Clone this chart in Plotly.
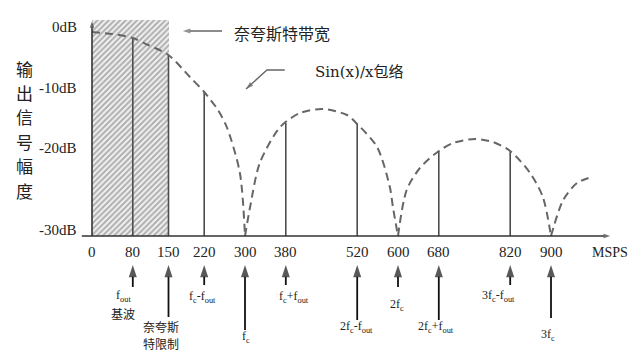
import plotly.graph_objects as go

# ---- data (x in MSPS, heights in arbitrary display units above the baseline) ----
stem_freqs = [80, 150, 220, 380, 520, 680, 820]
stem_heights = [198, 181, 144, 113, 112, 85, 85]

lobe1_x = [0, 40, 80, 110, 150, 192, 220, 247, 265, 290, 300]
lobe1_h = [204, 202, 198, 191, 181, 159, 144, 126, 108, 63, 0]
lobe2_x = [300, 310, 329, 369, 408, 453, 500, 520, 559, 584, 590, 600]
lobe2_h = [0, 29, 73, 109, 123, 127, 121, 112, 89, 49, 29, 0]
lobe3_x = [600, 617, 643, 680, 708, 751, 786, 820, 859, 884, 900]
lobe3_h = [0, 46, 68, 85, 93, 97, 94, 85, 63, 39, 0]
lobe4_x = [900, 924, 951, 980]
lobe4_h = [0, 36, 53, 59]

nyquist_band = [0, 150]
band_top = 216

x_tick_vals = [0, 80, 150, 220, 300, 380, 520, 600, 680, 820, 900]
x_tick_text = ["0", "80", "150", "220", "300", "380", "520", "600", "680", "820", "900"]

y_tick_pos = [209, 148, 88, 6]
y_tick_text = ["0dB", "-10dB", "-20dB", "-30dB"]

y_title_chars = list("输出信号幅度")

# labels under the axis
arrow_x = [80, 150, 220, 300, 380, 520, 600, 680, 820, 900]
arrow_tail = [-51, -81, -49, -94, -49, -84, -51, -84, -49, -82]
label_x = [61, 135, 216, 302, 396, 518, 598, 675, 797, 895]
label_y = [-60, -90, -61, -101, -61, -91, -69, -91, -60, -99]
label_text = ["f<sub>out</sub>", "奈夸斯", "f<sub>c</sub>-f<sub>out</sub>", "f<sub>c</sub>",
              "f<sub>c</sub>+f<sub>out</sub>", "2f<sub>c</sub>-f<sub>out</sub>", "2f<sub>c</sub>",
              "2f<sub>c</sub>+f<sub>out</sub>", "3f<sub>c</sub>-f<sub>out</sub>", "3f<sub>c</sub>"]
second_line_text = ["基波", "特限制"]
second_line_x = [61, 135]
second_line_y = [-77, -107]

SERIF = "Liberation Serif, Noto Sans CJK SC"
CJK = "Noto Sans CJK SC"
TXT = "#222222"

fig = go.Figure()


def arrow(xs, ys, color, width, head):
    """line through xs/ys with an arrow head on the last point"""
    sizes = [0] * (len(xs) - 1) + [head]
    fig.add_trace(go.Scatter(
        x=xs, y=ys, mode="lines+markers",
        line=dict(color=color, width=width),
        marker=dict(symbol="arrow", angleref="previous", size=sizes, color=color, line=dict(width=0)),
        showlegend=False, hoverinfo="skip", cliponaxis=False))


# hatched Nyquist band
fig.add_trace(go.Bar(
    x=[(nyquist_band[0] + nyquist_band[1]) / 2], y=[band_top],
    width=[nyquist_band[1] - nyquist_band[0]],
    marker=dict(color="white", line=dict(width=0),
                pattern=dict(shape="/", fgcolor="#6a6a6a", bgcolor="#f2f2f2", size=4, solidity=0.5)),
    hoverinfo="skip", showlegend=False))

# stems
sx, sy = [], []
for f, h in zip(stem_freqs, stem_heights):
    sx += [f, f, None]
    sy += [0, h, None]
fig.add_trace(go.Scatter(x=sx, y=sy, mode="lines",
                         line=dict(color="#4d4d4d", width=1.6), showlegend=False, hoverinfo="skip"))

# sin(x)/x envelope
for lx, lh in [(lobe1_x, lobe1_h), (lobe2_x, lobe2_h), (lobe3_x, lobe3_h), (lobe4_x, lobe4_h)]:
    fig.add_trace(go.Scatter(x=lx, y=lh, mode="lines",
                             line=dict(color="#666666", width=2, dash="8px,5px", shape="spline", smoothing=0.8),
                             showlegend=False, hoverinfo="skip"))

# axis lines with arrows
arrow([-20, 1016], [0, 0], "#333333", 1.6, 7)
arrow([0, 0], [0, 215], "#333333", 1.6, 7)

# arrows under the axis
for ax_, tail in zip(arrow_x, arrow_tail):
    arrow([ax_, ax_], [tail, -29], "#111111", 1.8, 13)

# callout arrows at the top
arrow([255, 178], [205, 205], "#666666", 1.3, 8)
arrow([378, 343, 302], [166, 166, 147], "#666666", 1.3, 8)

ann = []
# tick labels
for v, t in zip(x_tick_vals, x_tick_text):
    ann.append(dict(x=v, y=-16, xref="x", yref="y", text=t, showarrow=False,
                    font=dict(family=SERIF, size=15, color=TXT)))
ann.append(dict(x=1016, y=-16, xref="x", yref="y", text="MSPS", showarrow=False,
                font=dict(family=SERIF, size=14, color=TXT)))
for p, t in zip(y_tick_pos, y_tick_text):
    ann.append(dict(x=-25, y=p, xref="x", yref="y", text=t, showarrow=False, xanchor="right",
                    font=dict(family=SERIF, size=15, color=TXT)))

# y title: one upright character per row
for i, ch in enumerate(y_title_chars):
    ann.append(dict(x=-133, y=168 - 24.4 * i, xref="x", yref="y", text=ch, showarrow=False,
                    font=dict(family=CJK, size=17, color=TXT)))

# labels under the arrows
for lx, ly, t in zip(label_x, label_y, label_text):
    is_cjk = t == "奈夸斯"
    ann.append(dict(x=lx, y=ly, xref="x", yref="y", text=t, showarrow=False,
                    font=dict(family=CJK if is_cjk else SERIF, size=12, color=TXT)))
for t, lx, ly in zip(second_line_text, second_line_x, second_line_y):
    ann.append(dict(x=lx, y=ly, xref="x", yref="y", text=t, showarrow=False,
                    font=dict(family=CJK, size=12, color=TXT)))

# top callout texts
ann.append(dict(x=373, y=203, xref="x", yref="y", text="奈夸斯特带宽", showarrow=False,
                font=dict(family=CJK, size=16, color=TXT)))
ann.append(dict(x=524, y=164, xref="x", yref="y", text="Sin(x)/x包络", showarrow=False,
                font=dict(family="DejaVu Serif, Noto Sans CJK SC", size=15, color=TXT)))

# the page body adds an 8px offset; ranges compensate so marks land where the reference has them
fig.update_layout(
    width=640, height=360, margin=dict(l=0, r=0, t=0, b=0),
    paper_bgcolor="white", plot_bgcolor="white",
    xaxis=dict(range=[-164.7, 1090.2], visible=False, fixedrange=True),
    yaxis=dict(range=[-132, 228], visible=False, fixedrange=True),
    annotations=ann, bargap=0, showlegend=False,
)

fig.write_html("out.html")
